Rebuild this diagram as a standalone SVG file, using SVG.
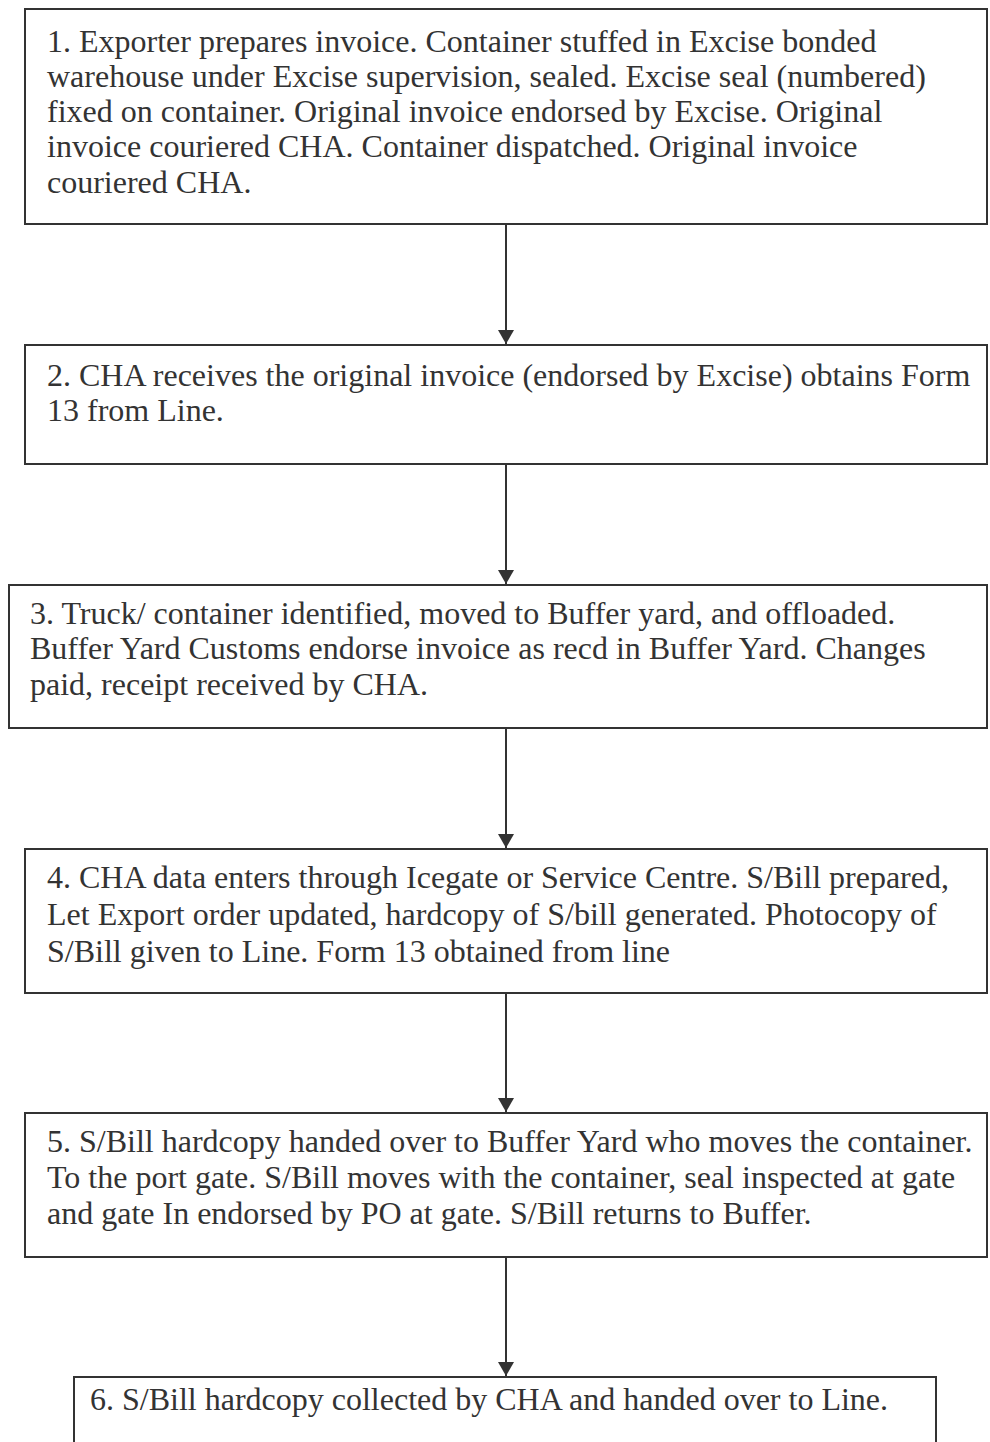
<svg xmlns="http://www.w3.org/2000/svg" width="990" height="1442" viewBox="0 0 990 1442">
<style>
.box{fill:#fff;stroke:#333;stroke-width:2}
.t{font-family:"Liberation Serif","Times New Roman",serif;font-size:32px;fill:#333}
.c{stroke:#333;stroke-width:2;fill:none}
</style>
<defs>
<marker id="ah" markerUnits="userSpaceOnUse" markerWidth="14" markerHeight="16" refX="14" refY="8" orient="auto">
<path d="M0,0 L14,8 L0,16 Z" fill="#333"/>
</marker>
</defs>
<rect width="990" height="1442" fill="#fff"/>
<g id="connectors">
<line class="c" x1="506" y1="224" x2="506" y2="344" marker-end="url(#ah)"/>
<line class="c" x1="506" y1="464" x2="506" y2="584" marker-end="url(#ah)"/>
<line class="c" x1="506" y1="728" x2="506" y2="848" marker-end="url(#ah)"/>
<line class="c" x1="506" y1="993" x2="506" y2="1112" marker-end="url(#ah)"/>
<line class="c" x1="506" y1="1257" x2="506" y2="1376" marker-end="url(#ah)"/>
</g>
<g id="n1">
<rect class="box" x="25" y="9" width="962" height="215"/>
<text class="t" x="47" y="52">1. Exporter prepares invoice. Container stuffed in Excise bonded</text>
<text class="t" x="47" y="87">warehouse under Excise supervision, sealed. Excise seal (numbered)</text>
<text class="t" x="47" y="122">fixed on container. Original invoice endorsed by Excise. Original</text>
<text class="t" x="47" y="157">invoice couriered CHA. Container dispatched. Original invoice</text>
<text class="t" x="47" y="193">couriered CHA.</text>
</g>
<g id="n2">
<rect class="box" x="25" y="345" width="962" height="119"/>
<text class="t" x="47" y="386">2. CHA receives the original invoice (endorsed by Excise) obtains Form</text>
<text class="t" x="47" y="421">13 from Line.</text>
</g>
<g id="n3">
<rect class="box" x="9" y="585" width="978" height="143"/>
<text class="t" x="30" y="624">3. Truck/ container identified, moved to Buffer yard, and offloaded.</text>
<text class="t" x="30" y="659">Buffer Yard Customs endorse invoice as recd in Buffer Yard. Changes</text>
<text class="t" x="30" y="695">paid, receipt received by CHA.</text>
</g>
<g id="n4">
<rect class="box" x="25" y="849" width="962" height="144"/>
<text class="t" x="47" y="888">4. CHA data enters through Icegate or Service Centre. S/Bill prepared,</text>
<text class="t" x="47" y="925">Let Export order updated, hardcopy of S/bill generated. Photocopy of</text>
<text class="t" x="47" y="962">S/Bill given to Line. Form 13 obtained from line</text>
</g>
<g id="n5">
<rect class="box" x="25" y="1113" width="962" height="144"/>
<text class="t" x="47" y="1152">5. S/Bill hardcopy handed over to Buffer Yard who moves the container.</text>
<text class="t" x="47" y="1188">To the port gate. S/Bill moves with the container, seal inspected at gate</text>
<text class="t" x="47" y="1224">and gate In endorsed by PO at gate. S/Bill returns to Buffer.</text>
</g>
<g id="n6">
<rect class="box" x="74" y="1377" width="862" height="90"/>
<text class="t" x="90" y="1410">6. S/Bill hardcopy collected by CHA and handed over to Line.</text>
</g>
</svg>
